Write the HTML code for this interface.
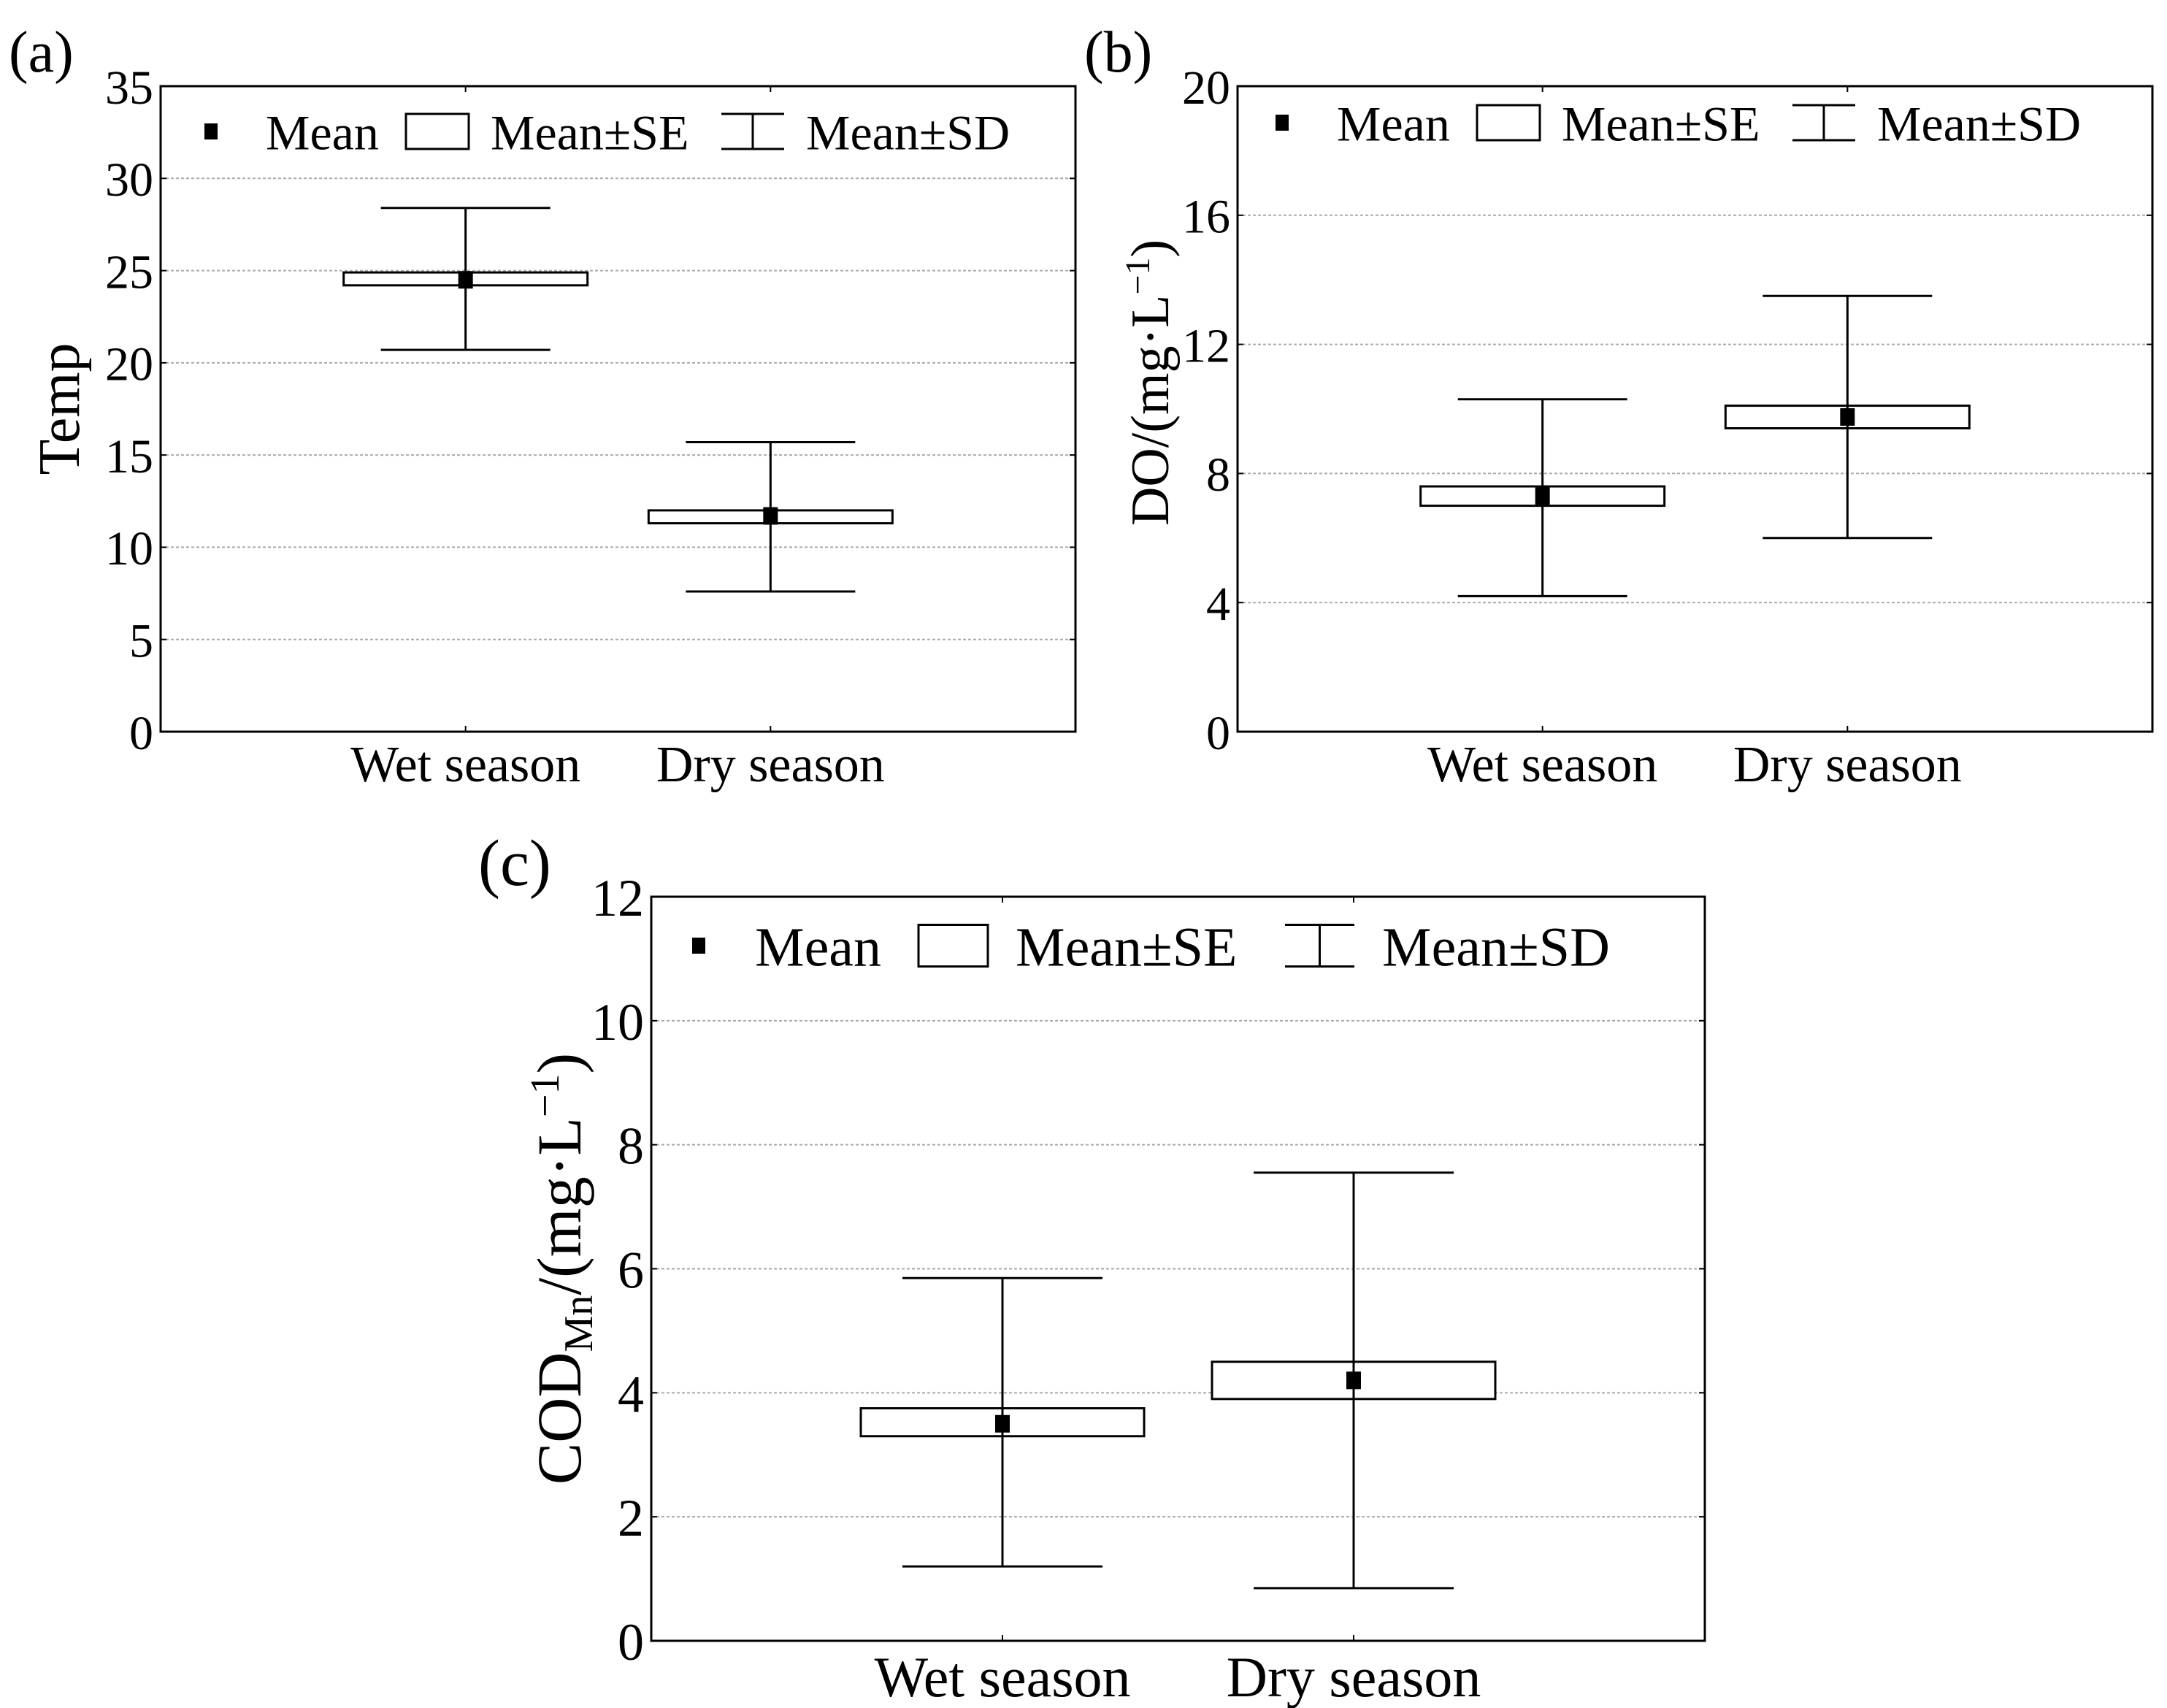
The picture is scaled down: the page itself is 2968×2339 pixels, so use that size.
<!DOCTYPE html>
<html><head><meta charset="utf-8"><style>
html,body{margin:0;padding:0;background:#fff;}
svg{display:block;}
text{font-family:"Liberation Serif","Noto Serif CJK SC",serif;fill:#000;}
</style></head><body>
<svg id="fig" width="2968" height="2339" viewBox="0 0 2968 2339" xmlns="http://www.w3.org/2000/svg"></svg>
<script>
const categories = ["Wet season", "Dry season"];
const tempMean = [24.5, 11.7];
const tempSeLo = [24.2, 11.3];
const tempSeHi = [24.9, 12.0];
const tempSdLo = [20.7, 7.6];
const tempSdHi = [28.4, 15.7];
const tempTicks = [0, 5, 10, 15, 20, 25, 30, 35];
const doMean = [7.3, 9.75];
const doSeLo = [7.0, 9.4];
const doSeHi = [7.6, 10.1];
const doSdLo = [4.2, 6.0];
const doSdHi = [10.3, 13.5];
const doTicks = [0, 4, 8, 12, 16, 20];
const codMean = [3.5, 4.2];
const codSeLo = [3.3, 3.9];
const codSeHi = [3.75, 4.5];
const codSdLo = [1.2, 0.85];
const codSdHi = [5.85, 7.55];
const codTicks = [0, 2, 4, 6, 8, 10, 12];

const NS = "http://www.w3.org/2000/svg";
const svg = document.getElementById("fig");
function mk(tag, attrs, parent, txt){
  const e = document.createElementNS(NS, tag);
  for (const k in attrs) e.setAttribute(k, attrs[k]);
  if (txt !== undefined) e.textContent = txt;
  (parent || svg).appendChild(e);
  return e;
}
function panel(cfg){
  const g = mk("g", {});
  
  
  const {L,R,T,B,ticks,fs,lfs} = cfg;
  const ymin = ticks[0], ymax = ticks[ticks.length-1];
  const y = v => B - (v - ymin) / (ymax - ymin) * (B - T);
  const xs = [L + (R-L)/3, L + 2*(R-L)/3];
  const x = i => xs[i];
  ticks.forEach(t => {
    if (t !== ymin && t !== ymax) {
      const gl = mk("line", {x1:L, x2:R, y1:y(t), y2:y(t), stroke:"#aaa", "stroke-width":2, "stroke-dasharray":"4,3"}, g);
      
      
    }
    const tl = mk("text", {x:L-10, y:y(t)+fs*0.36, "text-anchor":"end", "font-size":fs}, g, String(t));
    
    
    mk("line", {x1:L, x2:L+8, y1:y(t), y2:y(t), stroke:"#000", "stroke-width":2}, g);
    mk("line", {x1:R, x2:R-8, y1:y(t), y2:y(t), stroke:"#000", "stroke-width":2}, g);
  });
  categories.forEach((c, i) => {
    mk("line", {x1:x(i), x2:x(i), y1:B, y2:B-8, stroke:"#000", "stroke-width":2}, g);
    mk("line", {x1:x(i), x2:x(i), y1:T, y2:T+8, stroke:"#000", "stroke-width":2}, g);
    const xl = mk("text", {x:x(i), y:B+cfg.xlOff, "text-anchor":"middle", "font-size":cfg.xfs}, g, c);
    
    
    const sd = mk("path", {d:`M${x(i)-cfg.cap},${y(cfg.sdHi[i])}H${x(i)+cfg.cap}M${x(i)},${y(cfg.sdHi[i])}V${y(cfg.sdLo[i])}M${x(i)-cfg.cap},${y(cfg.sdLo[i])}H${x(i)+cfg.cap}`, stroke:"#000", "stroke-width":3, fill:"none"}, g);
    
    
    const se = mk("rect", {x:x(i)-cfg.box, y:y(cfg.seHi[i]), width:2*cfg.box, height:y(cfg.seLo[i])-y(cfg.seHi[i]), fill:"#fff", stroke:"#000", "stroke-width":3}, g);
    
    
    mk("line", {x1:x(i), x2:x(i), y1:y(cfg.seHi[i]), y2:y(cfg.seLo[i]), stroke:"#000", "stroke-width":3}, g);
    const m = mk("rect", {x:x(i)-10, y:y(cfg.mean[i])-12, width:20, height:24, fill:"#000"}, g);
    
    
  });
  const fr = mk("rect", {x:L, y:T, width:R-L, height:B-T, fill:"none", stroke:"#000", "stroke-width":3}, g);
  
  
  const lg = mk("g", {}, g);
  
  
  const ly = cfg.ly, bw = cfg.bw, bh = cfg.bh, to = cfg.to;
  let lx = L + cfg.lx0;
  mk("rect", {x:lx, y:ly-11, width:18, height:22, fill:"#000"}, lg);
  mk("text", {x:lx+cfg.mto, y:ly+lfs*0.36, "font-size":lfs}, lg, "Mean");
  lx += cfg.seX;
  mk("rect", {x:lx, y:ly-bh/2, width:bw, height:bh, fill:"none", stroke:"#000", "stroke-width":3}, lg);
  mk("text", {x:lx+to, y:ly+lfs*0.36, "font-size":lfs}, lg, "Mean±SE");
  lx += cfg.sdX;
  mk("path", {d:`M${lx},${ly-bh/2}H${lx+bw}M${lx+bw/2},${ly-bh/2}V${ly+bh/2}M${lx},${ly+bh/2}H${lx+bw}`, stroke:"#000", "stroke-width":3, fill:"none"}, lg);
  mk("text", {x:lx+to, y:ly+lfs*0.36, "font-size":lfs}, lg, "Mean±SD");
  const yl = mk("text", {transform:`translate(${cfg.yLabX},${(T+B)/2 + (cfg.yLabDy||0)}) rotate(-90)`, "text-anchor":"middle", "font-size":cfg.yfs}, g);
  
  
  cfg.ylab(yl);
  const pl = mk("text", {x:cfg.plx, y:cfg.ply, "font-size":cfg.pfs}, g, cfg.plabel);
  
  
}
function tspan(p, t, attrs){ return mk("tspan", attrs||{}, p, t); }

panel({name:"panel-a-temp", L:220, R:1473, T:118, B:1002, ticks:tempTicks, fs:66, lfs:68, xfs:70, xlOff:68,
  mean:tempMean, seLo:tempSeLo, seHi:tempSeHi, sdLo:tempSdLo, sdHi:tempSdHi, box:167, cap:116,
  ly:180, lx0:60, seX:276, sdX:432, bw:86, bh:48, to:116, mto:84, yLabX:108, yfs:80,
  ylab: e => tspan(e, "Temp"), plabel:"(a)", plx:12, ply:98, pfs:80});
panel({name:"panel-b-do", L:1695, R:2948, T:118, B:1002, ticks:doTicks, fs:66, lfs:68, xfs:70, xlOff:68,
  mean:doMean, seLo:doSeLo, seHi:doSeHi, sdLo:doSdLo, sdHi:doSdHi, box:167, cap:116,
  ly:168, lx0:52, seX:276, sdX:432, bw:86, bh:48, to:116, mto:84, yLabX:1600, yfs:74, yLabDy:-36,
  ylab: e => { tspan(e, "DO/(mg·L"); tspan(e, "−1", {dy:-26, "font-size":48}); tspan(e, ")", {dy:26}); },
  plabel:"(b)", plx:1485, ply:98, pfs:80});
panel({name:"panel-c-cod", L:892, R:2335, T:1228, B:2247, ticks:codTicks, fs:72, lfs:76, xfs:78, xlOff:76,
  mean:codMean, seLo:codSeLo, seHi:codSeHi, sdLo:codSdLo, sdHi:codSdHi, box:194, cap:137,
  ly:1295, lx0:56, seX:310, sdX:502, bw:95, bh:57, to:133, mto:86, yLabX:795, yfs:86,
  ylab: e => { tspan(e, "COD"); tspan(e, "Mn", {dy:16, "font-size":56}); tspan(e, "/(mg·L", {dy:-16}); tspan(e, "−1", {dy:-30, "font-size":56}); tspan(e, ")", {dy:30}); },
  plabel:"(c)", plx:655, ply:1212, pfs:90});
</script>
</body></html>
